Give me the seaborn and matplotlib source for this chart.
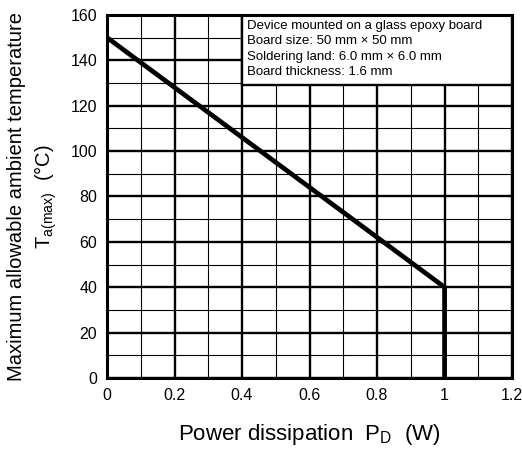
import matplotlib
matplotlib.use('Agg')
import matplotlib.pyplot as plt
import seaborn as sns
import pandas as pd
from matplotlib.ticker import MultipleLocator, FuncFormatter
from matplotlib.patches import Rectangle

sns.set_style('white')
plt.rcParams['font.family'] = ['Liberation Sans', 'DejaVu Sans']
plt.rcParams['text.color'] = 'black'
plt.rcParams['axes.labelcolor'] = 'black'
plt.rcParams['xtick.color'] = 'black'
plt.rcParams['ytick.color'] = 'black'

# Derating curve points
power_w = [0.0, 1.0, 1.0]
temp_c = [150, 40, 0]

note_lines = [
    'Device mounted on a glass epoxy board',
    'Board size: 50 mm \u00d7 50 mm',
    'Soldering land: 6.0 mm \u00d7 6.0 mm',
    'Board thickness: 1.6 mm',
]

df = pd.DataFrame({'P': power_w, 'T': temp_c})

fig = plt.figure(figsize=(5.22, 4.5), dpi=100)
ax = fig.add_axes([0.205, 0.16, 0.776, 0.807])

ax.set_xlim(0, 1.2)
ax.set_ylim(0, 160)
ax.xaxis.set_major_locator(MultipleLocator(0.2))
ax.xaxis.set_minor_locator(MultipleLocator(0.1))
ax.yaxis.set_major_locator(MultipleLocator(20))
ax.yaxis.set_minor_locator(MultipleLocator(10))
ax.xaxis.set_major_formatter(FuncFormatter(lambda v, p: f'{v:g}'))
ax.grid(which='major', color='black', linewidth=1.7)
ax.grid(which='minor', color='black', linewidth=0.8)
ax.set_axisbelow(True)
ax.tick_params(which='both', length=0, labelsize=11.5, pad=7)
for s in ax.spines.values():
    s.set_visible(True)
    s.set_color('black')
    s.set_linewidth(2.2)

sns.lineplot(data=df, x='P', y='T', sort=False, estimator=None, color='black',
             linewidth=3.4, ax=ax, zorder=3)

# white note box covering the grid in the upper right
ax.add_patch(Rectangle((0.4, 129), 0.8, 31, facecolor='white', edgecolor='black',
                       linewidth=1.7, zorder=2))
ax.text(0.415, 157.6, '\n'.join(note_lines), fontsize=9.5, va='top', ha='left',
        linespacing=1.35, zorder=4)

ax.set_xlabel('Power dissipation  P$_\\mathregular{D}$  (W)', fontsize=16, labelpad=14)
ax.set_ylabel('Maximum allowable ambient temperature\nT$_\\mathregular{a(max)}$  (\u00b0C)',
              fontsize=14.5, labelpad=8, linespacing=1.4)

fig.savefig('out.png', dpi=100)
